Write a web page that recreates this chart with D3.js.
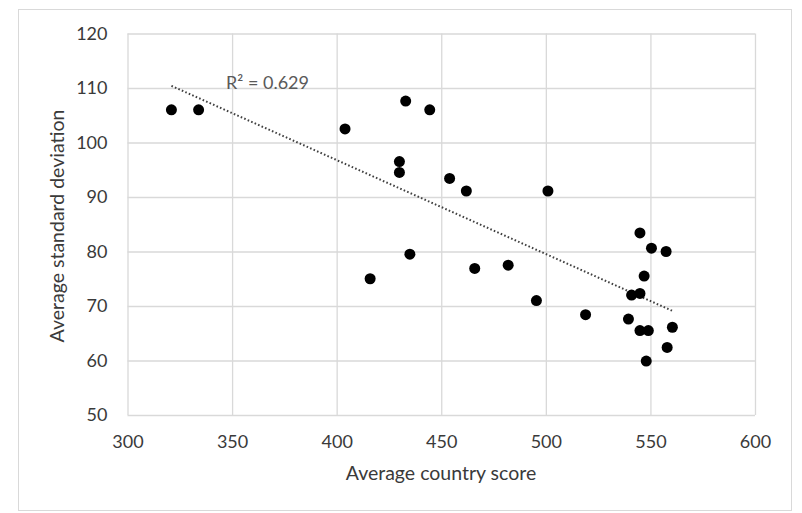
<!DOCTYPE html>
<html>
<head>
<meta charset="utf-8">
<script src="https://cdn.jsdelivr.net/npm/d3@7"></script>
<style>
  html, body { margin: 0; padding: 0; background: #fff; }
  svg { display: block; }
</style>
</head>
<body>
<svg id="chart" width="802" height="513"></svg>
<script>
// Data
const countryScore = [321, 334, 404, 433, 444.5, 430, 430, 454, 462, 501, 435, 416, 466, 482, 495.5, 519, 539.5, 545, 550.5, 557.5, 547, 541, 545, 545, 549, 560.5, 558, 548];
const stdDeviation = [106, 106, 102.5, 107.6, 106, 96.5, 94.5, 93.4, 91.1, 91.1, 79.5, 75, 76.9, 77.5, 71, 68.4, 67.6, 83.4, 80.6, 80, 75.5, 72, 72.3, 65.5, 65.5, 66.1, 62.4, 59.9];
const xTicks = [300, 350, 400, 450, 500, 550, 600];
const yTicks = [50, 60, 70, 80, 90, 100, 110, 120];
const xTitle = "Average country score";
const yTitle = "Average standard deviation";
const r2Label = "R² = 0.629";

const svg = d3.select("#chart");
const FONT = "Lato, 'Open Sans', sans-serif";
const TEXT = "#3a3a3a";
const GRID = "#d9d9d9";

// outer chart border
svg.append("rect")
  .attr("x", 18.5).attr("y", 9.5)
  .attr("width", 773).attr("height", 501)
  .attr("fill", "#fff").attr("stroke", GRID).attr("stroke-width", 1);

const x = d3.scaleLinear().domain([300, 600]).range([127.5, 755]);
const y = d3.scaleLinear().domain([50, 120]).range([415, 33.5]);

// gridlines (vertical)
const gx = svg.append("g").attr("transform", "translate(0,415)")
  .call(d3.axisBottom(x).tickValues(xTicks).tickSize(-(415 - 33.5)).tickFormat(d3.format("d")).tickPadding(20));
gx.select(".domain").remove();
gx.selectAll(".tick line").attr("stroke", GRID).attr("stroke-width", 1.3);
gx.selectAll(".tick text").attr("fill", TEXT).attr("font-family", FONT).attr("font-size", 18).attr("dy", "0.71em");

const gy = svg.append("g").attr("transform", "translate(127.5,0)")
  .call(d3.axisLeft(y).tickValues(yTicks).tickSize(-(755 - 127.5)).tickFormat(d3.format("d")).tickPadding(20));
gy.select(".domain").remove();
gy.selectAll(".tick line").attr("stroke", GRID).attr("stroke-width", 1.3);
gy.selectAll(".tick text").attr("fill", TEXT).attr("font-family", FONT).attr("font-size", 18);

// linear regression trendline
const pts = countryScore.map((v, i) => [v, stdDeviation[i]]);
const mx = d3.mean(pts, d => d[0]), my = d3.mean(pts, d => d[1]);
const sxy = d3.sum(pts, d => (d[0] - mx) * (d[1] - my));
const sxx = d3.sum(pts, d => (d[0] - mx) ** 2);
const slope = sxy / sxx, intercept = my - slope * mx;
const [xmin, xmax] = d3.extent(countryScore);
svg.append("path")
  .datum([xmin, xmax])
  .attr("d", d3.line().x(d => x(d)).y(d => y(intercept + slope * d)))
  .attr("fill", "none").attr("stroke", "#404040").attr("stroke-width", 2)
  .attr("stroke-dasharray", "1.6,2.2");

// points
svg.append("g").selectAll("circle").data(pts).join("circle")
  .attr("cx", d => x(d[0])).attr("cy", d => y(d[1]))
  .attr("r", 5.5).attr("fill", "#000");

// R² label
svg.append("text")
  .attr("x", 226).attr("y", 89)
  .attr("font-family", FONT).attr("font-size", 18).attr("fill", "#595959")
  .text(r2Label);

// axis titles
svg.append("text")
  .attr("x", 441).attr("y", 480).attr("text-anchor", "middle")
  .attr("font-family", FONT).attr("font-size", 19.5).attr("fill", TEXT)
  .text(xTitle);
svg.append("text")
  .attr("transform", "translate(64,226) rotate(-90)").attr("text-anchor", "middle")
  .attr("font-family", FONT).attr("font-size", 19.5).attr("fill", TEXT)
  .text(yTitle);
</script>
</body>
</html>
